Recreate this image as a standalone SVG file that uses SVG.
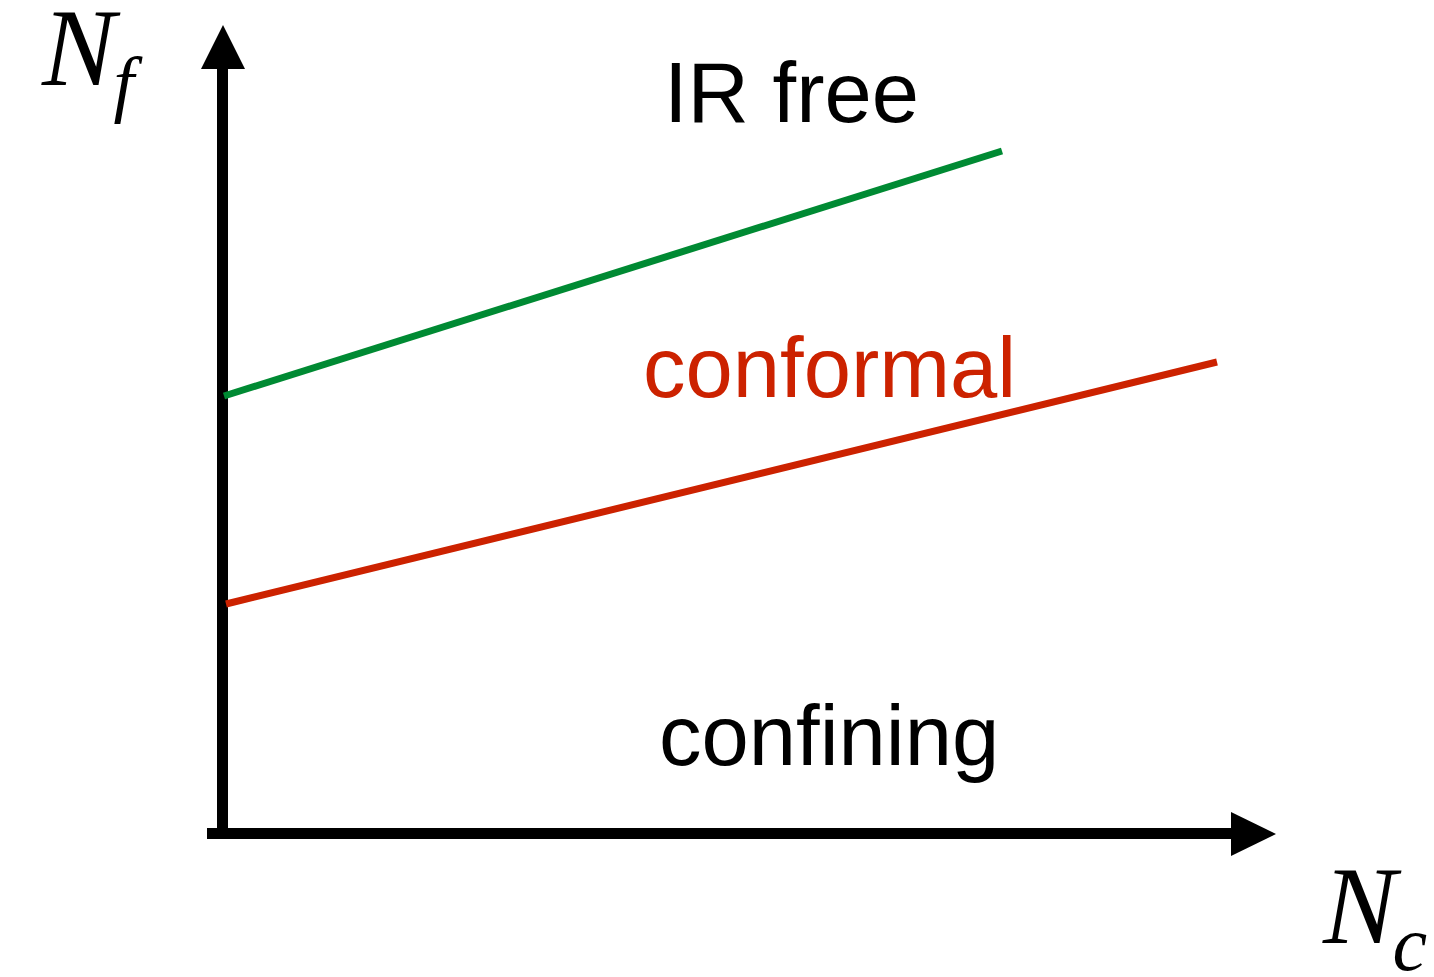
<svg xmlns="http://www.w3.org/2000/svg" width="1434" height="977" viewBox="0 0 1434 977">
<style>
.lbl{font-family:"Liberation Sans",Arial,sans-serif;font-size:85px}
.math{font-family:"Liberation Serif","Times New Roman",serif;font-style:italic}
.axis{stroke:#000;stroke-width:11;fill:none}
</style>
<rect width="1434" height="977" fill="#fff"/>
<g id="connectors">
<line class="axis" x1="222.5" y1="60" x2="222.5" y2="834"/>
<polygon points="223,25 201,69 245,69" fill="#000"/>
<line class="axis" x1="207" y1="833.5" x2="1240" y2="833.5"/>
<polygon points="1276,834 1231,812 1231,856" fill="#000"/>
<line x1="224" y1="396" x2="1002" y2="151" stroke="#008a33" stroke-width="7"/>
<line x1="226" y1="604" x2="1217" y2="362" stroke="#cc2200" stroke-width="7"/>
</g>
<g id="label-nf"><text class="math" x="42" y="85" font-size="110">N<tspan dx="-2" dy="23" font-size="74">f</tspan></text></g>
<g id="label-nc"><text class="math" x="1323" y="943" font-size="110">N<tspan dx="-4" dy="27" font-size="78">c</tspan></text></g>
<g id="ir-free"><text class="lbl" x="664" y="122" font-size="83">IR free</text></g>
<g id="conformal"><text class="lbl" x="643" y="397" fill="#cc2200">conformal</text></g>
<g id="confining"><text class="lbl" x="659" y="765">confining</text></g>
</svg>
